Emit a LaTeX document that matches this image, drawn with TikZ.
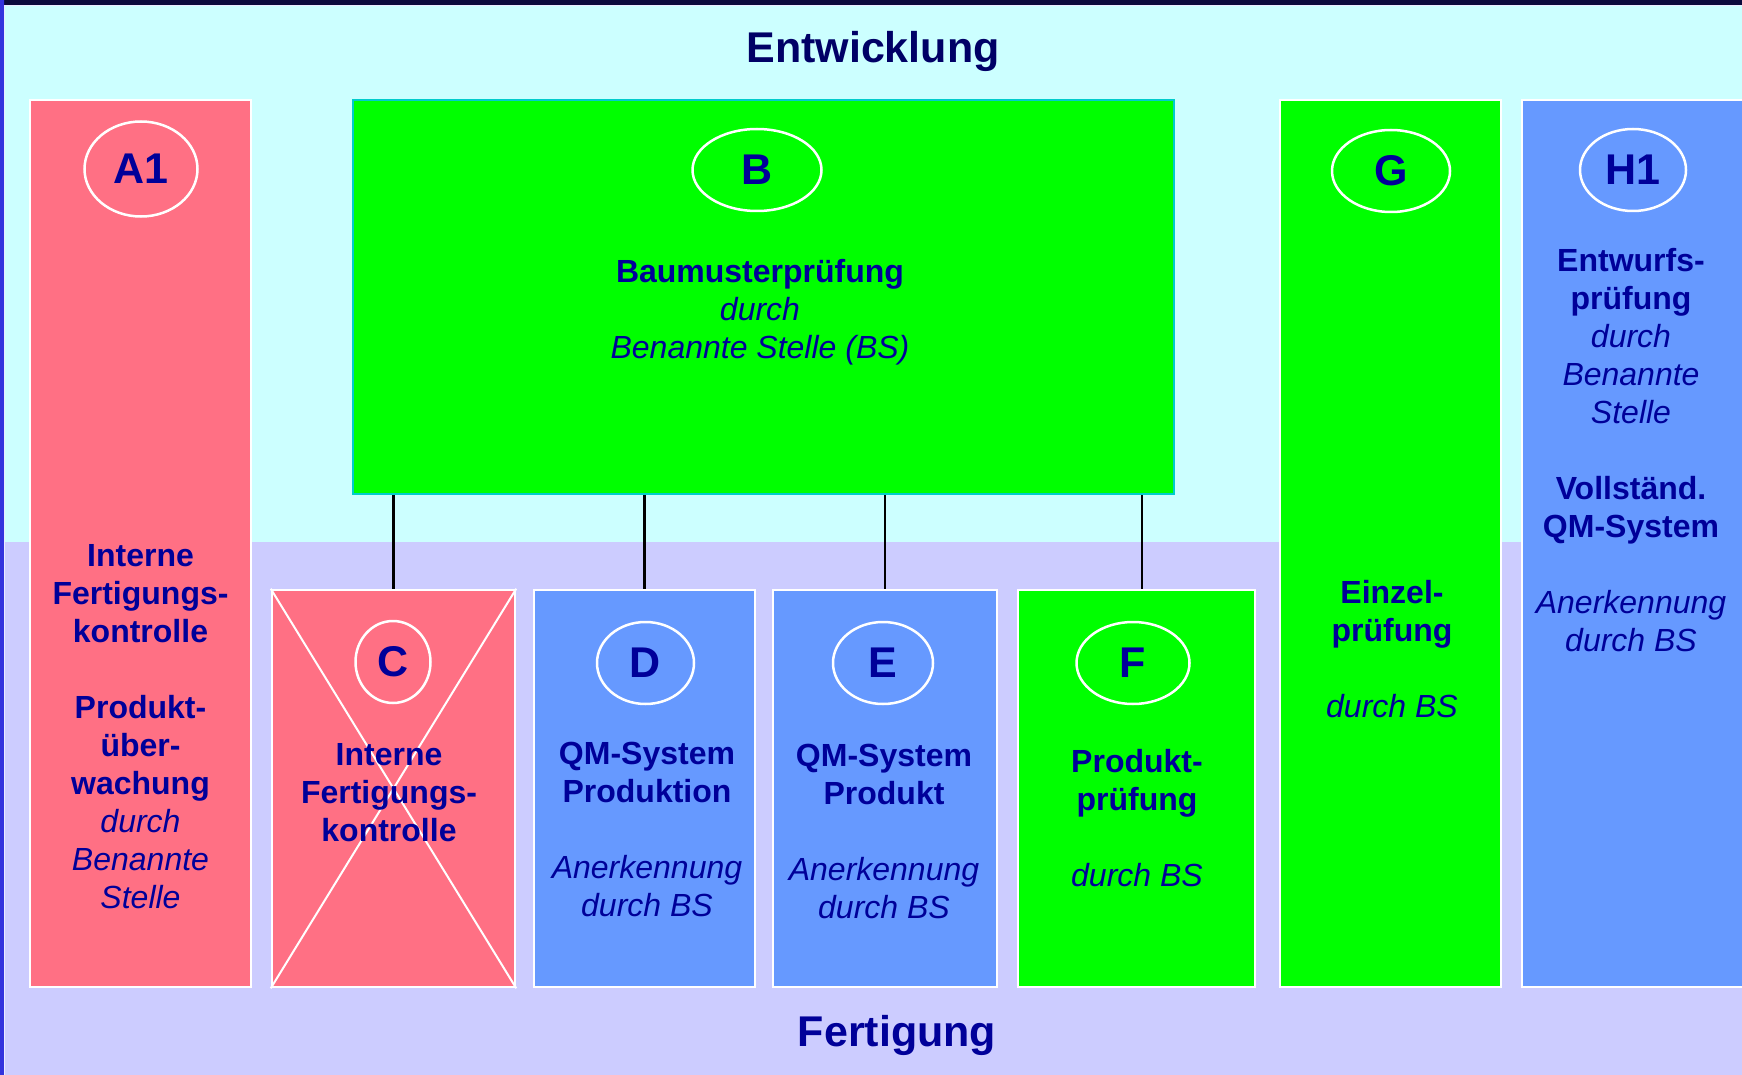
\documentclass[tikz,border=0pt]{standalone}
\usepackage{fontspec}
\setmainfont{Liberation Sans}
\usetikzlibrary{shapes.geometric,calc}
\definecolor{skyband}{RGB}{204,255,255}
\definecolor{lilac}{RGB}{204,204,255}
\definecolor{rose}{RGB}{255,112,132}
\definecolor{lime}{RGB}{0,255,0}
\definecolor{cornflower}{RGB}{102,153,255}
\definecolor{turq}{RGB}{0,204,204}
\definecolor{ink}{RGB}{0,0,153}
\definecolor{deepink}{RGB}{0,0,102}
\definecolor{bar}{RGB}{10,10,60}
\definecolor{edge}{RGB}{51,51,221}
\newcommand{\ital}[1]{{\mdseries\itshape #1}}

\begin{document}
\begin{tikzpicture}[x=1pt,y=-1pt,
    panel/.style={draw=white,line width=2.5pt,inner sep=0pt},
    tag/.style={ellipse,draw=white,line width=2.5pt,inner sep=0pt,text=ink,
      font=\fontsize{43}{50}\selectfont\bfseries},
    blurb/.style={align=center,text=ink,font=\fontsize{32}{38}\selectfont\bfseries},
    heading/.style={anchor=base,font=\fontsize{43}{50}\selectfont\bfseries},
    link/.style={line width=2.5pt,black}]
  \clip (0,0) rectangle (1742,1075);
  % two bands: development on top, production below
  \fill[skyband] (0,0) rectangle (1742,542);
  \fill[lilac] (0,542) rectangle (1742,1075);
  \fill[bar] (0,0) rectangle (1742,5);
  \shade[top color=edge,middle color=bar,bottom color=edge] (0,0) rectangle (4,1075);
  \draw[white!60!lilac,line width=1pt] (4.5,1075) -- (4.5,5.5) -- (1742,5.5);

  \node[heading,text=deepink] (dev) at (873,63) {Entwicklung};
  \node[heading,text=ink] (prod) at (897,1046) {Fertigung};

  % tall columns and the type examination box
  \node[panel,fill=rose,minimum width=221,minimum height=887] (A1) at (140.5,543.5) {};
  \node[panel,draw=turq,fill=lime,minimum width=821,minimum height=394] (B) at (763.5,297) {};
  \node[panel,fill=lime,minimum width=221,minimum height=887] (G) at (1390.5,543.5) {};
  \node[panel,fill=cornflower,minimum width=226,minimum height=887] (H1) at (1635,543.5) {};

  % production modules
  \foreach \n/\x/\w/\c in {C/393.5/243/rose,D/644.5/221/cornflower,
      E/885/224/cornflower,F/1136.5/237/lime}
  {
    \node[panel,fill=\c,minimum width=\w,minimum height=397] (\n) at (\x,788.5) {};
  }
  \draw[white,line width=2pt] (C.north west) -- (C.south east)
    (C.north east) -- (C.south west);

  \foreach \n/\x/\y/\w/\h in {A1/141/169/113/95,B/757/170/129/82,G/1391/171/118/82,
      H1/1633/170/106/82,C/393/662/75/82,D/645.5/663/97/82,E/883/663/100/82,
      F/1133/663/113/82}
  {
    \node[tag,minimum width=\w,minimum height=\h] (tag\n) at (\x,\y) {\n};
  }

  \node[blurb] (txtA1) at (140.5,727) {Interne\\Fertigungs-\\kontrolle\\[38pt]
    Produkt-\\über-\\wachung\\\ital{durch}\\\ital{Benannte}\\\ital{Stelle}};
  \node[blurb] (txtB) at (760,312) {Baumusterprüfung\\\ital{durch}\\\ital{Benannte Stelle (BS)}};
  \node[blurb] (txtC) at (389,793) {Interne\\Fertigungs-\\kontrolle};
  \node[blurb] (txtD) at (647,829) {QM-System\\Produktion\\[38pt]\ital{Anerkennung}\\\ital{durch BS}};
  \node[blurb] (txtE) at (884,831) {QM-System\\Produkt\\[38pt]\ital{Anerkennung}\\\ital{durch BS}};
  \node[blurb] (txtF) at (1137,818) {Produkt-\\prüfung\\[38pt]\ital{durch BS}};
  \node[blurb] (txtG) at (1392,649) {Einzel-\\prüfung\\[38pt]\ital{durch BS}};
  \node[blurb] (txtH1) at (1631,450) {Entwurfs-\\prüfung\\\ital{durch}\\\ital{Benannte}\\\ital{Stelle}\\[38pt]
    Vollständ.\\QM-System\\[38pt]\ital{Anerkennung}\\\ital{durch BS}};

  % B feeds the four production modules
  \foreach \n/\dx in {C/0,D/0,E/0,F/5.5}
    \draw[link] ([xshift=\dx]\n.north) -- ([xshift=\dx]\n.north |- B.south);
\end{tikzpicture}
\end{document}
